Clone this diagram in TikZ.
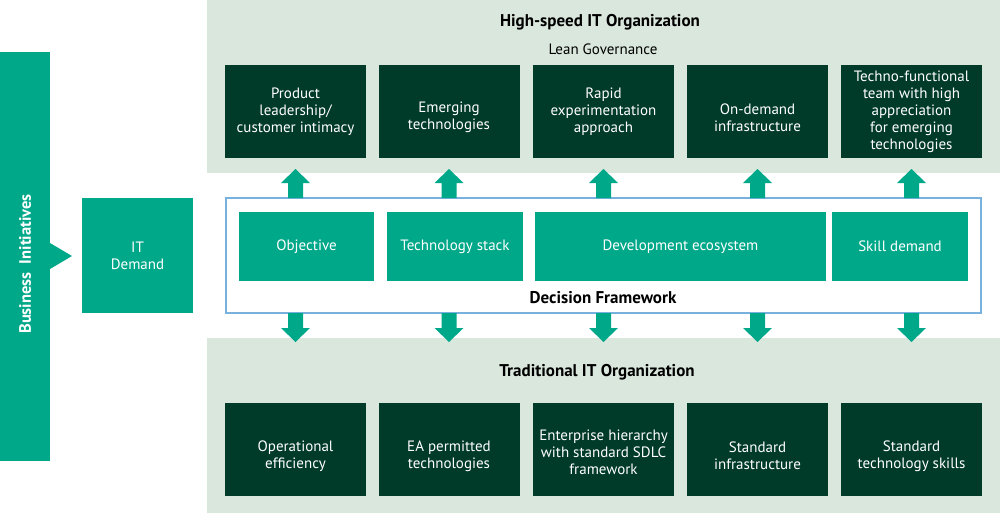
\documentclass[tikz,border=0pt]{standalone}
\usepackage{fontspec}
\setmainfont{PT Sans}
\definecolor{tealc}{RGB}{0,168,138}
\definecolor{darkc}{RGB}{0,58,40}
\definecolor{bandc}{RGB}{218,231,221}
\definecolor{fwblue}{RGB}{120,176,222}
\begin{document}
\begin{tikzpicture}[x=1pt,y=-1pt,
  txt/.style={inner sep=0pt,align=center,text=white,font=\fontsize{15}{17}\selectfont},
  dbox/.style={txt,fill=darkc,minimum width=141,minimum height=93},
  tbox/.style={txt,fill=tealc,minimum height=69},
  title/.style={inner sep=0pt,font=\bfseries\fontsize{17}{20}\selectfont,text=black},
  blk/.style={fill=tealc}]
\useasboundingbox (0,0) rectangle (1000,513);
\fill[bandc] (207,0) rectangle (1000,173);
\fill[bandc] (207,338) rectangle (1000,513);
% business initiatives
\fill[tealc] (0,52) rectangle (50,461);
\fill[tealc] (50,243) -- (72,256) -- (50,269) -- cycle;
\node[txt,rotate=90,font=\bfseries\fontsize{16.5}{19}\selectfont] (bi) at (25,264) {Business~~Initiatives};
\node[txt,fill=tealc,minimum width=111,minimum height=115] (itd) at (137.5,255.5) {IT\\Demand};
% titles
\node[title] (hs) at (600,22) {High-speed IT Organization};
\node[inner sep=0pt,font=\fontsize{15}{18}\selectfont] (lg) at (603,49) {Lean Governance};
\node[title] (tr) at (597,372) {Traditional IT Organization};
% top boxes
\node[dbox] (t1) at (295.5,111.5) {Product\\leadership/\\customer intimacy};
\node[dbox] (t2) at (449,111.5) {};
\node[txt] at (449,117.5) {Emerging\\technologies};
\node[dbox] (t3) at (603.5,111.5) {Rapid\\experimentation\\approach};
\node[dbox] (t4) at (757.5,111.5) {};
\node[txt] at (757.5,117.5) {On-demand\\infrastructure};
\node[dbox] (t5) at (911.5,111.5) {Techno-functional\\team with high\\appreciation\\for emerging\\technologies};
% bottom boxes
\node[dbox] (b1) at (295.5,449) {};
\node[txt] at (295.5,456) {Operational\\efficiency};
\node[dbox] (b2) at (449,449) {};
\node[txt] at (449,456) {EA permitted\\technologies};
\node[dbox] (b3) at (603.5,449) {};
\node[txt] at (603.5,452) {Enterprise hierarchy\\with standard SDLC\\framework};
\node[dbox] (b4) at (757.5,449) {};
\node[txt] at (757.5,456) {Standard\\infrastructure};
\node[dbox] (b5) at (911.5,449) {};
\node[txt] at (911.5,456) {Standard\\technology skills};
% framework
\node[draw=fwblue,line width=1.2pt,fill=white,minimum width=755,minimum height=115,inner sep=0pt] (fw) at (603.5,255.5) {};
\node[tbox,minimum width=135] (f1) at (306.5,246.5) {Objective};
\node[tbox,minimum width=136] (f2) at (455,246.5) {Technology stack};
\node[tbox,minimum width=291] (f3) at (680.5,246.5) {Development ecosystem};
\node[tbox,minimum width=136] (f4) at (900,246.5) {Skill demand};
\node[title] (dfl) at (603,298) {Decision Framework};
% block arrows
\foreach \x in {295.5,449,603.5,757.5,911.5}{
  \fill[blk] (\x-7.5,198) -- (\x-7.5,183) -- (\x-14.5,183) -- (\x,169) -- (\x+14.5,183) -- (\x+7.5,183) -- (\x+7.5,198) -- cycle;
  \fill[blk] (\x-7.5,313) -- (\x-7.5,328) -- (\x-14.5,328) -- (\x,342) -- (\x+14.5,328) -- (\x+7.5,328) -- (\x+7.5,313) -- cycle;
}
\end{tikzpicture}
\end{document}
